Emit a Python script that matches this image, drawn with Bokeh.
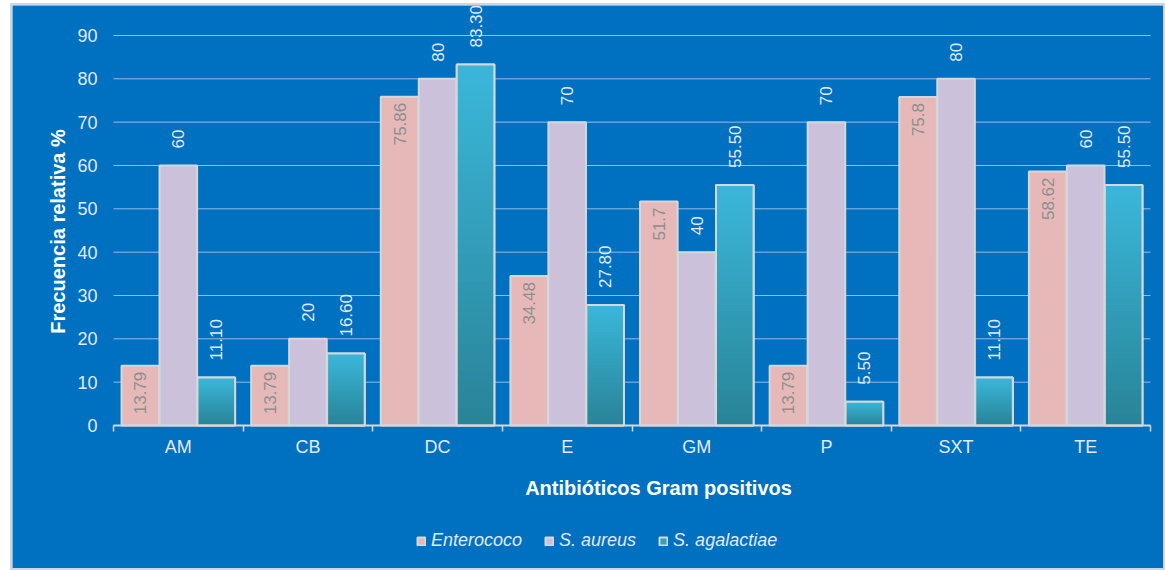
import numpy as np
from bokeh.plotting import figure
from bokeh.models import Range1d, FixedTicker, Legend, LegendItem, Label
from bokeh.core.properties import value
from bokeh.embed import file_html
from bokeh.resources import INLINE

# Antibiotic resistance frequencies (%) by organism
antibiotics = ["AM", "CB", "DC", "E", "GM", "P", "SXT", "TE"]
enterococo = [13.79, 13.79, 75.86, 34.48, 51.7, 13.79, 75.8, 58.62]
s_aureus = [60, 20, 80, 70, 40, 70, 80, 60]
s_agalactiae = [11.10, 16.60, 83.30, 27.80, 55.50, 5.50, 11.10, 55.50]

enterococo_labels = ["13.79", "13.79", "75.86", "34.48", "51.7", "13.79", "75.8", "58.62"]
aureus_labels = ["60", "20", "80", "70", "40", "70", "80", "60"]
agalactiae_labels = ["11.10", "16.60", "83.30", "27.80", "55.50", "5.50", "11.10", "55.50"]

y_ticks = [0, 10, 20, 30, 40, 50, 60, 70, 80, 90]

FONT = "Liberation Sans"
BG = "#0070C0"
PINK = "#E6B9B8"
LILAC = "#CCC1DA"
TEAL_TOP = (58, 182, 216)
TEAL_BOTTOM = (40, 130, 150)
OUTLINE = "#D4D8DC"
TEXT = "#E2EAF4"
GRID = "#94BCE6"

n = len(antibiotics)
centers = [i + 0.5 for i in range(n)]
boundaries = [float(i) for i in range(n + 1)]
offset = 0.293
width = 0.29

x_ent = [c - offset for c in centers]
x_aur = centers
x_aga = [c + offset for c in centers]

# The frame covers the whole canvas; both axes are pinned at 0 inside it,
# leaving room around the bars for titles and the legend.
p = figure(
    width=1151, height=563,
    x_range=Range1d(-0.7792, 8.1003), y_range=Range1d(-33.0, 96.92),
    output_backend="svg", toolbar_location=None,
    background_fill_color=BG, border_fill_color=BG,
    min_border=0, outline_line_color=None,
)
p.margin = (5, 2, 2, 12)
p.styles = {"outline": "2px solid #C9D7E6"}

# horizontal gridlines limited to the category span
p.xgrid.visible = False
p.ygrid.visible = False
p.segment(x0=[0] * len(y_ticks), x1=[n] * len(y_ticks), y0=y_ticks, y1=y_ticks,
          line_color=GRID, line_width=1)

# y axis
yaxis = p.yaxis[0]
yaxis.fixed_location = 0
yaxis.ticker = FixedTicker(ticks=y_ticks)
yaxis.axis_line_color = None
yaxis.major_tick_line_color = None
yaxis.minor_tick_line_color = None
yaxis.major_tick_out = 0
yaxis.major_tick_in = 0
yaxis.major_label_standoff = 16
yaxis.major_label_text_font = FONT
yaxis.major_label_text_font_size = "18px"
yaxis.major_label_text_color = TEXT

# x axis: labels at group centres, ticks at group boundaries
xaxis = p.xaxis[0]
xaxis.fixed_location = 0
xaxis.bounds = (0, n)
xaxis.ticker = FixedTicker(ticks=centers, minor_ticks=boundaries)
xaxis.major_label_overrides = {c: name for c, name in zip(centers, antibiotics)}
xaxis.major_tick_in = 0
xaxis.major_tick_out = 0
xaxis.minor_tick_in = 0
xaxis.minor_tick_out = 6
xaxis.minor_tick_line_color = OUTLINE
xaxis.minor_tick_line_width = 1.5
xaxis.axis_line_color = OUTLINE
xaxis.axis_line_width = 2
xaxis.major_label_standoff = 6
xaxis.major_label_text_font = FONT
xaxis.major_label_text_font_size = "18px"
xaxis.major_label_text_color = TEXT

# bars
r_ent = p.vbar(x=x_ent, top=enterococo, width=width, fill_color=PINK,
               line_color=OUTLINE, line_width=2)
r_aur = p.vbar(x=x_aur, top=s_aureus, width=width, fill_color=LILAC,
               line_color=OUTLINE, line_width=2)
r_aga = p.vbar(x=x_aga, top=s_agalactiae, width=width, fill_color="#33A0BE",
               line_color=OUTLINE, line_width=2)

# vertical gradient for S. agalactiae bars, built from stacked slices;
# each slice reaches a little below its lower edge so no seams show
steps = 40
left, right, bottom, top, colors = [], [], [], [], []
for xc, v in zip(x_aga, s_agalactiae):
    edges = np.linspace(0, v, steps + 1)
    overlap = v / steps
    for k in range(steps):
        f = (k + 0.5) / steps
        rgb = [int(round(b + (t - b) * f)) for b, t in zip(TEAL_BOTTOM, TEAL_TOP)]
        left.append(xc - width / 2)
        right.append(xc + width / 2)
        bottom.append(max(0.0, edges[k] - overlap))
        top.append(edges[k + 1])
        colors.append("#%02x%02x%02x" % tuple(rgb))
p.quad(left=left, right=right, bottom=bottom, top=top, fill_color=colors, line_color=None)
p.vbar(x=x_aga, top=s_agalactiae, width=width, fill_color=None,
       line_color=OUTLINE, line_width=2)

# value labels
p.text(x=x_ent, y=enterococo, text=enterococo_labels, angle=np.pi / 2,
       text_align="right", text_baseline="middle", y_offset=6,
       text_font=value(FONT), text_font_size="17px", text_color="#8E8E8E")
p.text(x=x_aur, y=s_aureus, text=aureus_labels, angle=np.pi / 2,
       text_align="left", text_baseline="middle", y_offset=-17,
       text_font=value(FONT), text_font_size="17px", text_color=TEXT)
p.text(x=x_aga, y=s_agalactiae, text=agalactiae_labels, angle=np.pi / 2,
       text_align="left", text_baseline="middle", y_offset=-17,
       text_font=value(FONT), text_font_size="17px", text_color=TEXT)

# axis titles
p.add_layout(Label(x=45, y=337, x_units="screen", y_units="screen",
                   text="Frecuencia relativa %", angle=np.pi / 2,
                   text_align="center", text_baseline="middle",
                   text_font=FONT, text_font_size="20px", text_font_style="bold",
                   text_color="#FFFFFF"))
p.add_layout(Label(x=646, y=81, x_units="screen", y_units="screen",
                   text="Antibióticos Gram positivos",
                   text_align="center", text_baseline="middle",
                   text_font=FONT, text_font_size="20px", text_font_style="bold",
                   text_color="#FFFFFF"))

legend = Legend(
    items=[LegendItem(label="Enterococo", renderers=[r_ent]),
           LegendItem(label="S. aureus", renderers=[r_aur]),
           LegendItem(label="S. agalactiae", renderers=[r_aga])],
    orientation="horizontal", location=(404, 17),
    background_fill_alpha=0, border_line_color=None,
    label_text_font=FONT, label_text_font_size="18px",
    label_text_font_style="italic", label_text_color=TEXT,
    glyph_width=10, glyph_height=10, label_standoff=5, spacing=22,
    padding=10, margin=0,
)
p.add_layout(legend)

open("out.html", "w").write(file_html(p, INLINE))
